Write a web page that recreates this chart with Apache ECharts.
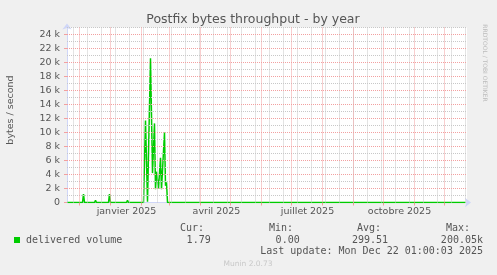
<!DOCTYPE html>
<html><head><meta charset="utf-8">
<script src="https://cdn.jsdelivr.net/npm/echarts@6/dist/echarts.min.js"></script>
<style>html,body{margin:0;padding:0;background:#F0F0F0}#c{width:497px;height:275px}</style>
</head><body><div id="c"></div><script>
// ---- data (daily averages, bytes/second) ----
const dates = ['2024-11-19',
  '2024-12-04','2024-12-05','2024-12-06',
  '2024-12-16','2024-12-17','2024-12-18',
  '2024-12-30','2024-12-31','2025-01-01',
  '2025-01-17','2025-01-18','2025-01-19',
  '2025-02-03','2025-02-05','2025-02-07','2025-02-08','2025-02-10','2025-02-12','2025-02-14',
  '2025-02-15','2025-02-16','2025-02-18','2025-02-20','2025-02-21','2025-02-24','2025-02-25',
  '2025-02-26','2025-02-27',
  '2025-05-15','2025-05-16','2025-05-17',
  '2025-12-22'];
const values = [0,
  0,1200,0,
  0,300,0,
  0,1200,0,
  0,300,0,
  0,11700,100,200,20600,4200,11300,
  1900,4400,2000,6400,1900,10000,2400,
  2900,0,
  0,250,0,
  1.79];
// ---- axis ticks / labels ----
const monthTicks = ['2024-12-01','2025-01-01','2025-02-01','2025-03-01','2025-04-01','2025-05-01','2025-06-01',
  '2025-07-01','2025-08-01','2025-09-01','2025-10-01','2025-11-01','2025-12-01'];
const weekTicks = ['2024-11-25','2024-12-09','2024-12-23','2025-01-06','2025-01-20','2025-02-03','2025-02-17',
  '2025-03-03','2025-03-17','2025-03-31','2025-04-14','2025-04-28','2025-05-12','2025-05-26','2025-06-09',
  '2025-06-23','2025-07-07','2025-07-21','2025-08-04','2025-08-18','2025-09-01','2025-09-15','2025-09-29',
  '2025-10-13','2025-10-27','2025-11-10','2025-11-24','2025-12-08','2025-12-22'];
const xLabelDates = ['2025-01-17','2025-04-17','2025-07-17','2025-10-17'];
const xLabels = ['janvier 2025','avril 2025','juillet 2025','octobre 2025'];
const yMajor = [0,2000,4000,6000,8000,10000,12000,14000,16000,18000,20000,22000,24000];
const yMinor = [1000,3000,5000,7000,9000,11000,13000,15000,17000,19000,21000,23000,25000];
const legendName = 'delivered volume';
const stats = {cur:'1.79', min:'0.00', avg:'299.51', max:'200.05k'};
const lastUpdate = 'Last update: Mon Dec 22 01:00:03 2025';

const T = s => Date.parse(s + 'T00:00:00Z');
const xMin = Date.UTC(2024,10,18,12);
const xMax = xMin + 400*864e5;
const pts = dates.map((d,i)=>[T(d), values[i]]);
const labelMap = {}; xLabelDates.forEach((d,i)=>labelMap[T(d)] = xLabels[i]);

const RED = '#F2A0A0', GREY = '#C8C8C8', FONT = '#555555';
function gridSeries(vals, key, color){
  return {type:'line', data: pts, silent:true, z:1, symbol:'none', lineStyle:{opacity:0}, animation:false,
    markLine:{silent:true, symbol:['none','none'], label:{show:false}, animation:false,
      emphasis:{disabled:true},
      lineStyle:{color:color, width:1, type:[1,1]},
      data: vals.map(v=>({[key]: v}))}};
}
const mono = '10px "DejaVu Sans Mono"';
function txt(x,y,t,align,extra){
  return Object.assign({type:'text', x:x, y:y, silent:true,
    style:{text:t, font:mono, fill:FONT, textAlign:align||'left', textVerticalAlign:'middle'}}, extra||{});
}
const chart = echarts.init(document.getElementById('c'), null, {renderer:'canvas'});
chart.setOption({
  backgroundColor:'#F0F0F0',
  animation:false,
  title:{text:'Postfix bytes throughput - by year', left:248, top:8, textAlign:'center',
    textStyle:{fontFamily:'DejaVu Sans', fontSize:12.5, fontWeight:'normal', color:FONT}},
  grid:{left:67, top:27.5, width:400, height:175, backgroundColor:'#FFFFFF', show:true, borderWidth:0},
  xAxis:{type:'value', min:xMin, max:xMax,
    splitLine:{show:false},
    axisLine:{show:true, onZero:false, lineStyle:{color:'#CFD6F8', width:1}, symbol:['none','arrow'], symbolSize:[7,6], symbolOffset:[0,4]},
    axisTick:{show:true, customValues: monthTicks.map(T), length:3, lineStyle:{color:RED}},
    axisLabel:{customValues: xLabelDates.map(T), formatter: v => labelMap[v] || '', margin:4,
      fontFamily:'DejaVu Sans', fontSize:9.5, color:FONT}},
  yAxis:{type:'value', min:0, max:25000,
    splitLine:{show:false},
    axisLine:{show:true, lineStyle:{color:'#CFD6F8', width:1}, symbol:['none','arrow'], symbolSize:[7,6], symbolOffset:[0,4]},
    axisTick:{show:true, customValues: yMajor, length:3, lineStyle:{color:RED}},
    axisLabel:{customValues: yMajor, formatter: v => v===0 ? '0' : (v/1000)+' k', margin:7,
      fontFamily:'DejaVu Sans', fontSize:9.5, color:FONT}},
  series:[
    gridSeries(weekTicks.map(T), 'xAxis', GREY),
    gridSeries(yMinor, 'yAxis', GREY),
    gridSeries(monthTicks.map(T), 'xAxis', RED),
    gridSeries(yMajor.slice(1), 'yAxis', RED),
    {type:'line', name:legendName, data:pts, symbol:'none', z:3, clip:true,
      lineStyle:{color:'#00CC00', width:1.5}, emphasis:{disabled:true}}
  ],
  graphic:[
    {type:'text', x:10.5, y:110, rotation:Math.PI/2, silent:true,
      style:{text:'bytes / second', font:'9.5px "DejaVu Sans"', fill:FONT, textAlign:'center', textVerticalAlign:'middle'}},
    {type:'text', x:485, y:63, rotation:-Math.PI/2, silent:true,
      style:{text:'RRDTOOL / TOBI OETIKER', font:'6px "DejaVu Sans"', fill:'#BBBBBB', textAlign:'center', textVerticalAlign:'middle'}},
    {type:'rect', shape:{x:14, y:237, width:6, height:6}, style:{fill:'#00CC00'}, silent:true},
    txt(26, 240, legendName),
    txt(204, 228, 'Cur:', 'right'), txt(210.7, 240, stats.cur, 'right'),
    txt(293, 228, 'Min:', 'right'), txt(299.7, 240, stats.min, 'right'),
    txt(381, 228, 'Avg:', 'right'), txt(388, 240, stats.avg, 'right'),
    txt(470, 228, 'Max:', 'right'), txt(483, 240, stats.max, 'right'),
    txt(483, 251.5, lastUpdate, 'right'),
    {type:'text', x:248, y:264.5, silent:true,
      style:{text:'Munin 2.0.73', font:'7.5px "DejaVu Sans"', fill:'#C8C8C8', textAlign:'center', textVerticalAlign:'middle'}}
  ]
});
</script></body></html>
